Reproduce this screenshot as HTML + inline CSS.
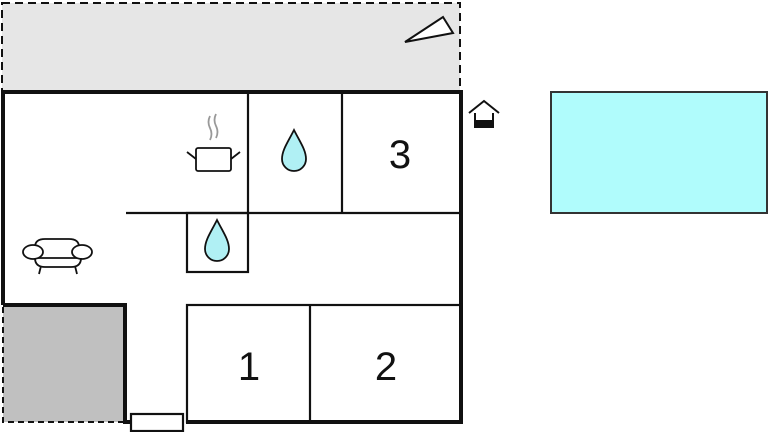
<!DOCTYPE html>
<html><head><style>body{margin:0;background:#fff}svg{display:block}</style></head><body>
<svg width="768" height="432" viewBox="0 0 768 432" xmlns="http://www.w3.org/2000/svg">
<rect x="2" y="3" width="458" height="89" fill="#e6e6e6" stroke="#111" stroke-width="2" stroke-dasharray="8,5"/>
<polygon points="405,42 443,17 453,33" fill="#fff" stroke="#111" stroke-width="2"/>
<rect x="3" y="305" width="122" height="117" fill="#c0c0c0" stroke="#111" stroke-width="2" stroke-dasharray="6,4"/>
<path d="M3,305 V92 H461 V422 H186 M131,422 H125 V305 H3" fill="none" stroke="#111" stroke-width="4"/>
<g fill="none" stroke="#111" stroke-width="2.2">
<path d="M248,92 V213 M342,92 V213 M126,213 H461"/>
<rect x="187" y="213" width="61" height="59"/>
<rect x="187" y="305" width="274" height="117"/>
<path d="M310,305 V422"/>
<rect x="131" y="414" width="52" height="17" fill="#fff"/>
</g>
<g stroke="#111" stroke-width="1.8" fill="#b0f0f4">
<path d="M294,130 C288,142 282,150 282,159 A12,12 0 0 0 306,159 C306,150 300,142 294,130Z"/>
<path d="M217,220 C211,232 205,240 205,249 A12,12 0 0 0 229,249 C229,240 223,232 217,220Z"/>
</g>
<g fill="none" stroke="#111" stroke-width="1.8">
<rect x="196" y="148" width="35" height="23" rx="2"/>
<path d="M187,152 L196,159 M240,152 L231,159"/>
<path d="M210,116 q-3,6 0,12 q3,6 0,12 M216,114 q-3,6 0,12 q3,6 0,12" stroke="#999"/>
<path d="M35,247 q0,-8 10,-8 h24 q10,0 10,8 M33,258 h50 M41,266 l-2,8 M75,266 l2,8"/>
<ellipse cx="33" cy="252" rx="10" ry="7" fill="#fff"/><ellipse cx="82" cy="252" rx="10" ry="7" fill="#fff"/>
<path d="M35,258 q0,9 10,9 h26 q10,0 10,-9"/>
</g>
<path d="M469,113 L484,101 L499,113 M475,113 V128 M493,113 V128" fill="none" stroke="#111" stroke-width="2"/>
<rect x="476" y="120" width="17" height="8" fill="#111"/>
<rect x="551" y="92" width="216" height="121" fill="#b0fcfc" stroke="#333" stroke-width="2"/>
<g font-family="Liberation Sans, sans-serif" font-size="40" fill="#111" text-anchor="middle">
<text x="400" y="168">3</text><text x="249" y="380">1</text><text x="386" y="380">2</text>
</g>
</svg>
</body></html>
